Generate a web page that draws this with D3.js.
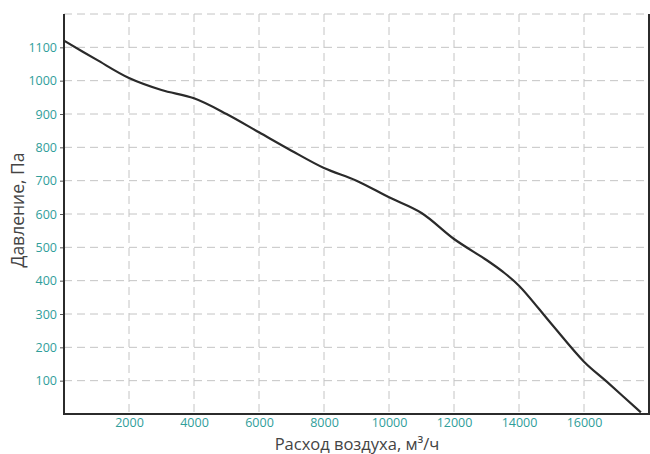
<!DOCTYPE html>
<html>
<head>
<meta charset="utf-8">
<script src="https://cdn.jsdelivr.net/npm/d3@7"></script>
<style>
  html, body { margin: 0; padding: 0; background: #fff; }
  svg { display: block; }
</style>
</head>
<body>
<svg id="chart" width="650" height="454"></svg>
<script>
// Fan performance curve: static pressure vs. air flow
const flow = [0, 1000, 2000, 3000, 4000, 5000, 6000, 7000, 8000, 9000, 10000, 11000, 12000, 13000, 13500, 14000, 15000, 16000, 16700, 17750];
const pressure = [1120, 1063, 1008, 972, 947, 900, 845, 790, 738, 700, 650, 603, 525, 462, 427, 385, 270, 157, 97, 5];
const xTicks = [2000, 4000, 6000, 8000, 10000, 12000, 14000, 16000];
const yTicks = [100, 200, 300, 400, 500, 600, 700, 800, 900, 1000, 1100];
const xTitle = "Расход воздуха, м³/ч";
const yTitle = "Давление, Па";

const svg = d3.select("#chart");
const plotL = 64, plotR = 649, plotT = 14, plotB = 414;

const x = d3.scaleLinear().domain([0, 18000]).range([plotL, plotR]);
const y = d3.scaleLinear().domain([0, 1200]).range([plotB, plotT]);

const tickColor = "#2f9e9a";
const gridColor = "#c4c4c4";

// dashed grid
const grid = svg.append("g");
grid.selectAll("line.v").data(xTicks).join("line").attr("class", "v")
  .attr("x1", d => x(d)).attr("x2", d => x(d))
  .attr("y1", plotT).attr("y2", plotB)
  .attr("stroke", gridColor).attr("stroke-width", 1).attr("stroke-dasharray", "8,5");
grid.selectAll("line.h").data(yTicks.concat([1200])).join("line").attr("class", "h")
  .attr("x1", plotL).attr("x2", plotR)
  .attr("y1", d => y(d)).attr("y2", d => y(d))
  .attr("stroke", gridColor).attr("stroke-width", 1).attr("stroke-dasharray", "8,5");

// axes
const xAxis = d3.axisBottom(x).tickValues(xTicks).tickSize(0).tickPadding(4).tickFormat(d3.format("d"));
const yAxis = d3.axisLeft(y).tickValues(yTicks).tickSize(4).tickPadding(3).tickFormat(d3.format("d"));

const gx = svg.append("g").attr("transform", `translate(0,${plotB})`).call(xAxis);
const gy = svg.append("g").attr("transform", `translate(${plotL},0)`).call(yAxis);
[gx, gy].forEach(g => {
  g.select(".domain").remove();
  g.selectAll("text").attr("fill", tickColor)
    .style("font-family", "'Open Sans', sans-serif").style("font-size", "12.5px");
  g.selectAll("line").attr("stroke", "#555");
});

// frame: left, bottom and right sides
svg.append("path")
  .attr("d", `M${plotL},${plotT}V${plotB}H${plotR}V${plotT}`)
  .attr("fill", "none").attr("stroke", "#2b2b2b").attr("stroke-width", 2);

// curve
const line = d3.line().x((d, i) => x(flow[i])).y(d => y(d)).curve(d3.curveCatmullRom.alpha(0.5));
svg.append("path")
  .datum(pressure)
  .attr("d", line)
  .attr("fill", "none").attr("stroke", "#2a2a2a").attr("stroke-width", 2.2);

// axis titles
svg.append("text")
  .attr("x", 357).attr("y", 449.5)
  .attr("text-anchor", "middle")
  .attr("fill", "#444")
  .style("font-family", "'Open Sans', sans-serif").style("font-size", "16.5px")
  .text(xTitle);
svg.append("text")
  .attr("transform", "translate(24,210) rotate(-90)")
  .attr("text-anchor", "middle")
  .attr("fill", "#444")
  .style("font-family", "'Open Sans', sans-serif").style("font-size", "17.5px")
  .text(yTitle);
</script>
</body>
</html>
